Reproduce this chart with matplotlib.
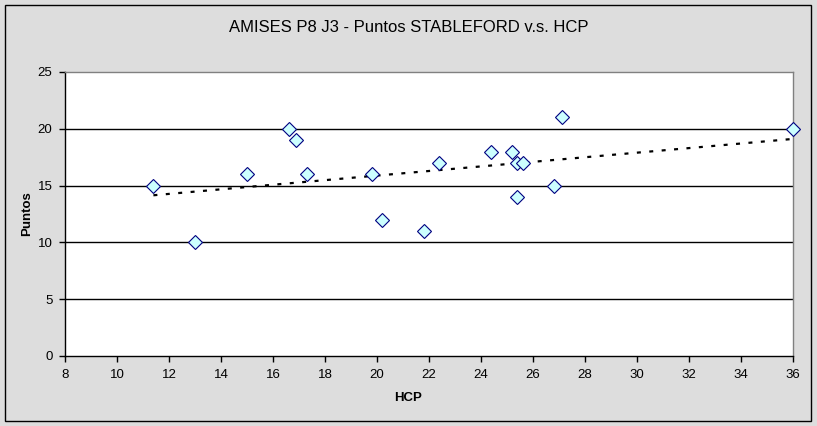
import matplotlib
matplotlib.use("Agg")
import matplotlib.pyplot as plt
from matplotlib.patches import Rectangle
import numpy as np

plt.rcParams['font.family'] = ['Liberation Sans', 'DejaVu Sans']

# HCP vs Stableford points
hcp = [11.4, 13.0, 15.0, 16.6, 16.9, 17.3, 19.8, 20.2, 21.8, 22.4,
       24.4, 25.2, 25.4, 25.4, 25.6, 26.8, 27.1, 36.0]
puntos = [15, 10, 16, 20, 19, 16, 16, 12, 11, 17,
          18, 18, 17, 14, 17, 15, 21, 20]

title = 'AMISES P8 J3 - Puntos STABLEFORD v.s. HCP'
xticks = list(range(8, 37, 2))
yticks = [0, 5, 10, 15, 20, 25]

W, H = 817, 426
fig = plt.figure(figsize=(W / 100, H / 100), dpi=100)
fig.patch.set_facecolor('#DDDDDD')

# outer chart border
fig.patches.append(Rectangle((5 / W, 5 / H), 806 / W, 416 / H,
                             transform=fig.transFigure, fill=False,
                             edgecolor='black', linewidth=1.0))

ax = fig.add_axes([65 / W, 1 - 356 / H, 728 / W, 284 / H])
ax.set_facecolor('white')
ax.set_xlim(8, 36)
ax.set_ylim(0, 25)

for y in yticks[1:-1]:
    ax.axhline(y, color='black', linewidth=1.0, zorder=1)

# linear trendline (least squares) across data range
x = np.array(hcp)
m, b = np.polyfit(x, np.array(puntos), 1)
xs = np.array([x.min(), x.max()])
ax.plot(xs, m * xs + b, color='black', linewidth=1.6,
        linestyle=(0, (1.8, 3.8)), zorder=2, clip_on=False)

ax.plot(hcp, puntos, linestyle='none', marker='D', markersize=7.6,
        markerfacecolor='#CCFFFF', markeredgecolor='#000080',
        markeredgewidth=0.8, zorder=3, clip_on=False)

for side in ['top', 'right']:
    ax.spines[side].set_color('#808080')
for side in ['left', 'bottom']:
    ax.spines[side].set_color('black')
for s in ax.spines.values():
    s.set_linewidth(1.0)

ax.set_xticks(xticks)
ax.set_yticks(yticks)
ax.tick_params(direction='out', length=4, width=1.0, labelsize=9.5,
               colors='black', pad=5)

fig.text(0.5, 1 - 27 / H, title, ha='center', va='center', fontsize=12)
fig.text(0.5, 1 - 398 / H, 'HCP', ha='center', va='center',
         fontsize=9.5, fontweight='bold')
fig.text(27 / W, 1 - 214 / H, 'Puntos', ha='center', va='center',
         rotation=90, fontsize=9.5, fontweight='bold')

fig.savefig('out.png', dpi=100, facecolor=fig.get_facecolor())
